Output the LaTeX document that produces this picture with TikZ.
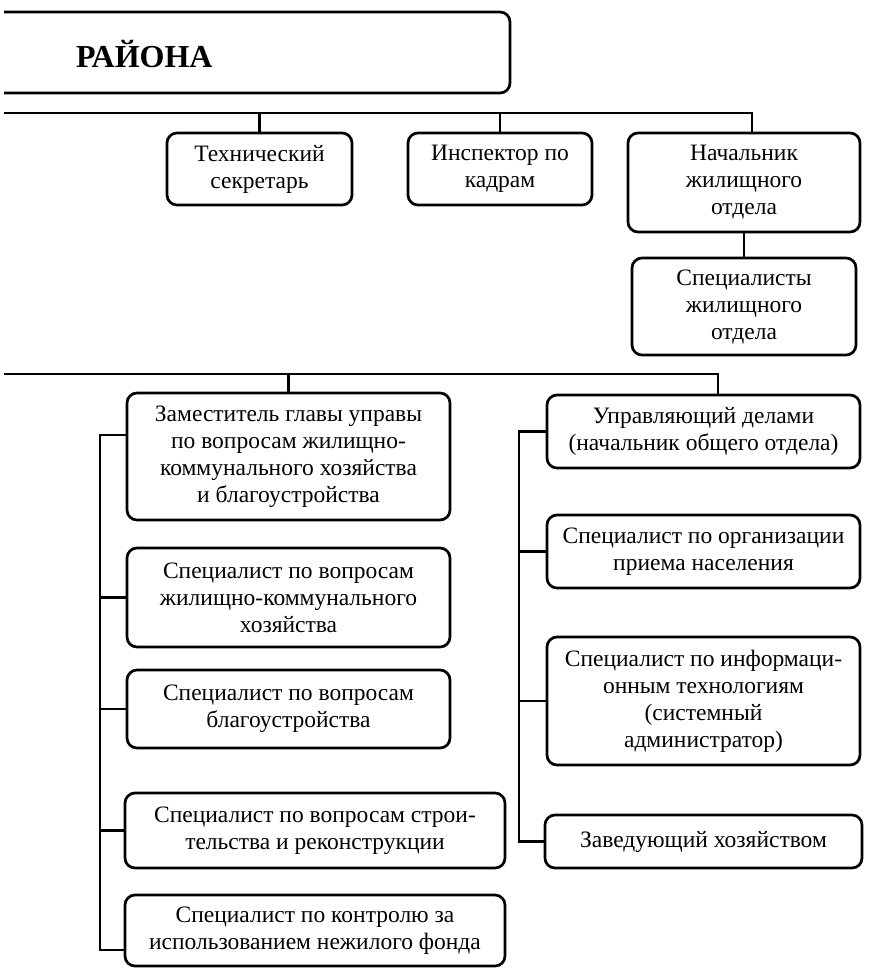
\documentclass[tikz,border=0pt]{standalone}
\usepackage{fontspec}
\setmainfont{Liberation Serif}
\usepackage{tikz}
\usetikzlibrary{positioning,calc}
\tikzset{
  dolzh/.style={draw,line width=2.7pt,rounded corners=10pt,align=center,inner sep=2pt,
                font=\fontsize{23.5}{27}\selectfont},
  svyaz/.style={line width=2.7pt},
  zagl/.style={font=\bfseries\fontsize{32}{38}\selectfont,anchor=west,inner sep=0pt},
}
\begin{document}
\begin{tikzpicture}[x=1pt,y=-1pt]
  \useasboundingbox (0,0) rectangle (871,971);
  % shapka
  \draw[svyaz,rounded corners=10pt] (4,12) -- (510,12) -- (510,93) -- (4,93);
  \node[zagl] (rayon) at (76,54) {РАЙОНА};
  % verhnij ryad
  \node[dolzh,minimum width=185pt,minimum height=72pt] (tehsek) at (259.5,169) {Технический\\секретарь};
  \node[dolzh,minimum width=184pt,minimum height=72pt] (inspektor) at (500,169) {Инспектор по\\кадрам};
  \node[dolzh,minimum width=232pt,minimum height=99pt] (nachzhil) at (744,182.5) {Начальник\\жилищного\\отдела};
  \node[dolzh,minimum width=224pt,minimum height=97pt] (speczhil) at (744,306.5) {Специалисты\\жилищного\\отдела};
  \coordinate (sh1l) at (4,113);
  \coordinate (sh1r) at (752,113);
  \draw[svyaz] (sh1l) -- (sh1r) -- (sh1r |- nachzhil.north);
  \draw[svyaz] (tehsek.north) -- (tehsek.north |- sh1l);
  \draw[svyaz] (inspektor.north) -- (inspektor.north |- sh1l);
  \draw[svyaz] (nachzhil.south) -- (speczhil.north);
  % levaya kolonka
  \node[dolzh,minimum width=323pt,minimum height=127pt] (zam) at (288.5,456.5) {Заместитель главы управы\\по вопросам жилищно-\\коммунального хозяйства\\и благоустройства};
  \node[dolzh,minimum width=323pt,minimum height=99pt] (zhkh) at (288.5,597.5) {Специалист по вопросам\\жилищно-коммунального\\хозяйства};
  \node[dolzh,minimum width=323pt,minimum height=78pt] (blag) at (288.5,709) {Специалист по вопросам\\благоустройства};
  \node[dolzh,minimum width=380pt,minimum height=75pt] (stroit) at (315,830.5) {Специалист по вопросам строи-\\тельства и реконструкции};
  \node[dolzh,minimum width=380pt,minimum height=71pt] (kontrol) at (315,930.5) {Специалист по контролю за\\использованием нежилого фонда};
  % pravaya kolonka
  \node[dolzh,minimum width=313pt,minimum height=73pt] (upr) at (703.5,431.5) {Управляющий делами\\(начальник общего отдела)};
  \node[dolzh,minimum width=313pt,minimum height=73pt] (org) at (703.5,551.5) {Специалист по организации\\приема населения};
  \node[dolzh,minimum width=313pt,minimum height=128pt] (inf) at (703.5,701) {Специалист по информаци-\\онным технологиям\\(системный\\администратор)};
  \node[dolzh,minimum width=317pt,minimum height=53pt] (zav) at (703.5,841.5) {Заведующий хозяйством};
  \coordinate (sh2l) at (4,374);
  \coordinate (sh2r) at (718,374);
  \draw[svyaz] (sh2l) -- (sh2r) -- (sh2r |- upr.north);
  \draw[svyaz] (zam.north) -- (zam.north |- sh2l);
  % levaya shina
  \coordinate (lev) at (100,435);
  \coordinate (levn) at (100,950);
  \draw[svyaz] (zam.west |- lev) -- (lev) -- (levn) -- (levn -| kontrol.west);
  \foreach \n in {zhkh,blag,stroit}
    \draw[svyaz] (lev |- \n.west) -- (\n.west);
  % pravaya shina
  \coordinate (prav) at (519,0);
  \draw[svyaz] (upr.west) -- (upr.west -| prav) |- (zav.west);
  \foreach \n in {org,inf}
    \draw[svyaz] (prav |- \n.west) -- (\n.west);
\end{tikzpicture}
\end{document}
